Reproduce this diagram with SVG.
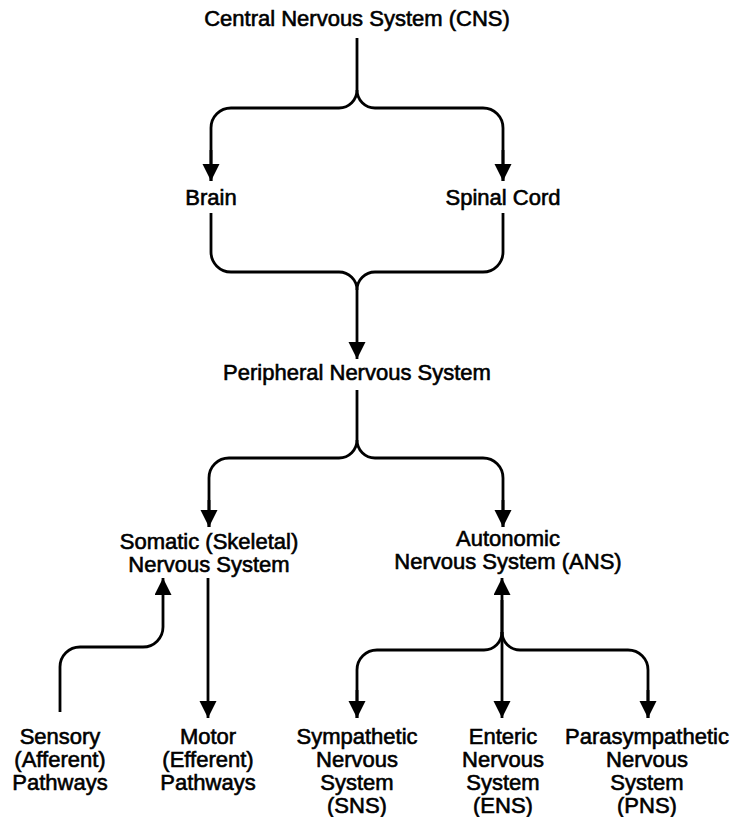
<svg xmlns="http://www.w3.org/2000/svg" width="740" height="817" viewBox="0 0 740 817">
  <style>
    .lbl { font-family: "Liberation Sans", Arial, Helvetica, sans-serif; font-size: 22px; fill: #000; stroke: #000; stroke-width: 0.6px; text-anchor: middle; }
    .wire { fill: none; stroke: #000; stroke-width: 2.8; stroke-linejoin: round; }
    .arrow { marker-end: url(#head); }
  </style>
  <defs>
    <marker id="head" markerUnits="userSpaceOnUse" markerWidth="18" markerHeight="18" refX="17" refY="8.5" orient="auto">
      <path d="M0,0 L17,8.5 L0,17 z" fill="#000"/>
    </marker>
  </defs>
  <rect width="740" height="817" fill="#fff"/>

  <g id="connectors">
    <!-- CNS splits into brain and spinal cord -->
    <path class="wire" d="M357,38 V90 A18,18 0 0 1 339,108 H231 A20,20 0 0 0 211,128 V181"/>
    <path class="wire arrow" d="M211,150 V181"/>
    <path class="wire" d="M357,90 A18,18 0 0 0 375,108 H483 A20,20 0 0 1 503,128 V181"/>
    <path class="wire arrow" d="M503,150 V181"/>
    <!-- brain and spinal cord join into PNS -->
    <path class="wire" d="M211,213 V252 A20,20 0 0 0 231,272 H339 A18,18 0 0 1 357,290"/>
    <path class="wire" d="M503,213 V252 A20,20 0 0 1 483,272 H375 A18,18 0 0 0 357,290"/>
    <path class="wire arrow" d="M357,290 V359"/>
    <!-- PNS splits into somatic and autonomic -->
    <path class="wire" d="M357,390 V440 A18,18 0 0 1 339,458 H229 A20,20 0 0 0 209,478 V527"/>
    <path class="wire arrow" d="M209,500 V527"/>
    <path class="wire" d="M357,440 A18,18 0 0 0 375,458 H483 A20,20 0 0 1 503,478 V527"/>
    <path class="wire arrow" d="M503,500 V527"/>
    <!-- somatic branches: sensory in, motor out -->
    <path class="wire arrow" d="M60,712 V667 A20,20 0 0 1 80,647 H143 A20,20 0 0 0 163,627 V578"/>
    <path class="wire arrow" d="M208,578 V718"/>
    <!-- autonomic branches -->
    <path class="wire arrow" d="M502,640 V578"/>
    <path class="wire arrow" d="M502,600 V718"/>
    <path class="wire" d="M502,632 A18,18 0 0 1 484,650 H377 A20,20 0 0 0 357,670 V718"/>
    <path class="wire arrow" d="M357,690 V718"/>
    <path class="wire" d="M502,632 A18,18 0 0 0 520,650 H628 A20,20 0 0 1 648,670 V718"/>
    <path class="wire arrow" d="M648,690 V718"/>
  </g>

  <g id="cns"><text class="lbl" x="357" y="26">Central Nervous System (CNS)</text></g>
  <g id="brain"><text class="lbl" x="211" y="205">Brain</text></g>
  <g id="spinal-cord"><text class="lbl" x="503" y="205">Spinal Cord</text></g>
  <g id="pns"><text class="lbl" x="357" y="380">Peripheral Nervous System</text></g>
  <g id="somatic">
    <text class="lbl" x="209" y="549">Somatic (Skeletal)</text>
    <text class="lbl" x="209" y="572">Nervous System</text>
  </g>
  <g id="ans">
    <text class="lbl" x="508" y="546">Autonomic</text>
    <text class="lbl" x="508" y="569">Nervous System (ANS)</text>
  </g>
  <g id="sensory">
    <text class="lbl" x="60" y="744">Sensory</text>
    <text class="lbl" x="60" y="767">(Afferent)</text>
    <text class="lbl" x="60" y="790">Pathways</text>
  </g>
  <g id="motor">
    <text class="lbl" x="208" y="744">Motor</text>
    <text class="lbl" x="208" y="767">(Efferent)</text>
    <text class="lbl" x="208" y="790">Pathways</text>
  </g>
  <g id="sympathetic">
    <text class="lbl" x="357" y="744">Sympathetic</text>
    <text class="lbl" x="357" y="767">Nervous</text>
    <text class="lbl" x="357" y="790">System</text>
    <text class="lbl" x="357" y="813">(SNS)</text>
  </g>
  <g id="enteric">
    <text class="lbl" x="503" y="744">Enteric</text>
    <text class="lbl" x="503" y="767">Nervous</text>
    <text class="lbl" x="503" y="790">System</text>
    <text class="lbl" x="503" y="813">(ENS)</text>
  </g>
  <g id="parasympathetic">
    <text class="lbl" x="647" y="744">Parasympathetic</text>
    <text class="lbl" x="647" y="767">Nervous</text>
    <text class="lbl" x="647" y="790">System</text>
    <text class="lbl" x="647" y="813">(PNS)</text>
  </g>
</svg>
